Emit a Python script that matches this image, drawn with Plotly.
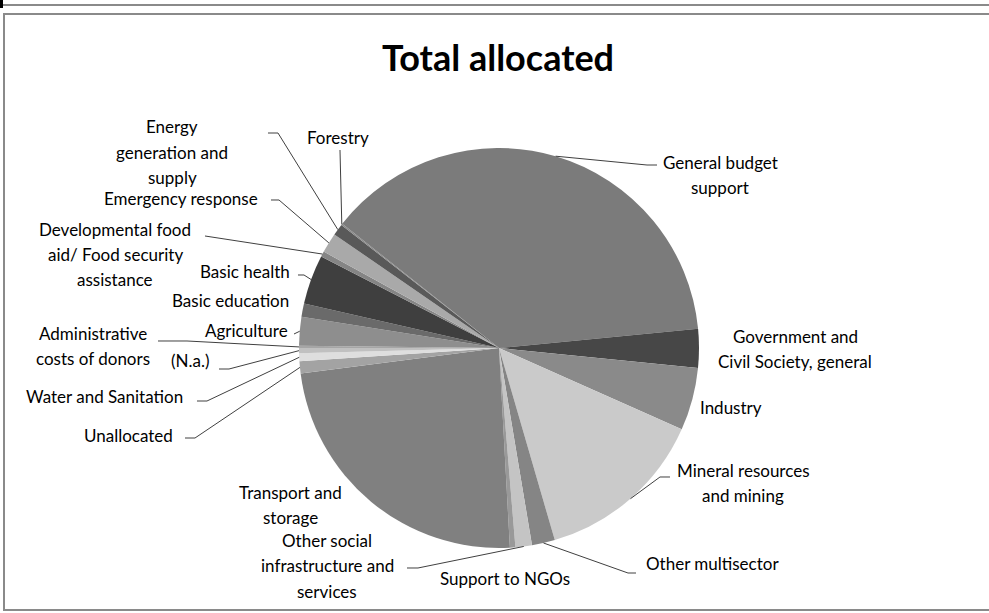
import math
import plotly.graph_objects as go

# ---------------- data ----------------
categories = [
    "Administrative costs of donors", "Agriculture", "Basic education", "Basic health",
    "Developmental food aid/ Food security assistance", "Emergency response",
    "Energy generation and supply", "Forestry", "General budget support",
    "Government and Civil Society, general", "Industry", "Mineral resources and mining",
    "Other multisector", "Other social infrastructure and services", "Support to NGOs",
    "Transport and storage", "Unallocated", "Water and Sanitation", "(N.a.)",
]
values = [0.17, 2.33, 1.06, 4.00, 0.44, 1.61, 0.94, 0.11, 37.80, 3.11, 5.08, 13.83,
          1.86, 1.33, 0.44, 23.83, 0.97, 0.64, 0.42]
label_lines = [
    ["Administrative", "costs of donors"], ["Agriculture"], ["Basic education"], ["Basic health"],
    ["Developmental food", "aid/ Food security", "assistance"], ["Emergency response"],
    ["Energy", "generation and", "supply"], ["Forestry"], ["General budget", "support"],
    ["Government and", "Civil Society, general"], ["Industry"], ["Mineral resources", "and mining"],
    ["Other multisector"], ["Other social", "infrastructure and", "services"], ["Support to NGOs"],
    ["Transport and", "storage"], ["Unallocated"], ["Water and Sanitation"], ["(N.a.)"],
]
title_text = "Total allocated"

# ---------------- styles / layout ----------------
colors = ["#a6a6a6", "#8e8e8e", "#6a6a6a", "#3f3f3f", "#858585", "#a9a9a9", "#595959", "#8a8a8a",
          "#7b7b7b", "#474747", "#8a8a8a", "#cacaca", "#858585", "#c4c4c4", "#999999",
          "#808080", "#a3a3a3", "#dedede", "#c0c0c0"]
W, H = 989, 613
CX, CY, R = 499, 348, 200
START = 270  # first slice starts at 9 o'clock, clockwise
FONT = "Lato"
FS = 17
LINE_H = 25.5
# label anchor (center x, y of first line) in pixels
label_pos = [(93, 333), (246, 330), (230, 300), (245, 271), (115, 229), (181, 198), (172, 127),
             (338, 137), (720, 162), (795, 336), (731, 407), (743, 470), (712, 563), (327, 540),
             (505, 578), (290, 492), (128, 435), (104, 397), (190, 360)]
# label-side points of leader lines (pixels); None = no leader line
leader_pts = [[(158, 341), (187, 341)], [(294, 334)], None, [(298, 275), (304, 275)],
              [(205, 236)], [(271, 200), (279, 200)], [(268, 133), (278, 133)], [(340, 150)],
              [(657, 165), (647, 165)], None, None, [(670, 477), (660, 477)],
              [(636, 573), (628, 573)], [(407, 568), (418, 568)], None, None,
              [(185, 438), (195, 438)], [(197, 401), (207, 401)], [(219, 369), (229, 369)]]


def px(x):
    return x / W


def py(y):
    return 1 - y / H


fig = go.Figure(go.Pie(
    labels=categories, values=values, sort=False, direction="clockwise", rotation=START,
    marker=dict(colors=colors, line=dict(width=0)), textinfo="none", hoverinfo="label+value",
    domain=dict(x=[px(CX - R), px(CX + R)], y=[py(CY + R), py(CY - R)]),
    showlegend=False,
))

annotations = [dict(text="<b>" + title_text + "</b>", x=px(498), y=py(57), xref="paper", yref="paper",
                    showarrow=False, font=dict(family=FONT, size=36, color="#000000"),
                    xanchor="center", yanchor="middle")]
shapes = []

total = sum(values)
cum = 0.0
for i, v in enumerate(values):
    mid = START + (cum + v / 2) / total * 360
    cum += v
    ax = CX + R * math.sin(math.radians(mid))
    ay = CY - R * math.cos(math.radians(mid))
    lx, ly = label_pos[i]
    for k, t in enumerate(label_lines[i]):
        annotations.append(dict(text=t, x=px(lx), y=py(ly + k * LINE_H), xref="paper", yref="paper",
                                showarrow=False, font=dict(family=FONT, size=FS, color="#000000"),
                                xanchor="center", yanchor="middle"))
    if leader_pts[i]:
        pts = leader_pts[i] + [(ax, ay)]
        path = "M " + " L ".join(f"{px(x):.5f},{py(y):.5f}" for x, y in pts)
        shapes.append(dict(type="path", path=path, xref="paper", yref="paper",
                           line=dict(color="#404040", width=1)))

# frame lines
shapes.append(dict(type="line", xref="paper", yref="paper", x0=px(3), x1=px(989), y0=py(5), y1=py(5),
                   line=dict(color="#8a8a8a", width=2)))
shapes.append(dict(type="rect", xref="paper", yref="paper", x0=px(0), x1=px(3), y0=py(0), y1=py(8),
                   line=dict(width=0), fillcolor="#000000"))
shapes.append(dict(type="rect", xref="paper", yref="paper", x0=px(4), x1=px(992), y0=py(14), y1=py(610),
                   line=dict(color="#8a8a8a", width=2)))

fig.update_layout(width=W, height=H, margin=dict(l=0, r=0, t=0, b=0), paper_bgcolor="white",
                  plot_bgcolor="white", annotations=annotations, shapes=shapes,
                  font=dict(family=FONT))
fig.write_html("out.html", config={"displayModeBar": False},
               post_script="document.body.style.margin='0';document.body.style.overflow='hidden';")
